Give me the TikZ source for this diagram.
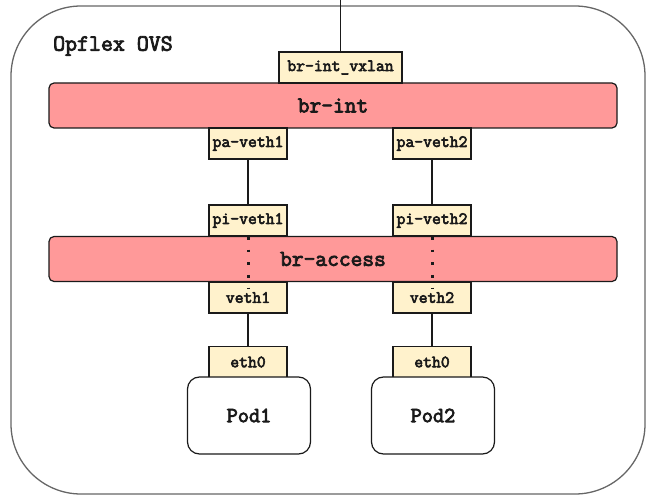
\documentclass[tikz,border=0pt]{standalone}
\usepackage{fontspec}
\newfontfamily\boldmono{Latin Modern Mono}[FakeBold=3.5]
\definecolor{portfill}{HTML}{FFF2CC}
\definecolor{bridgefill}{HTML}{FF9999}
\definecolor{inkline}{HTML}{1A1A1A}
\begin{document}
\begin{tikzpicture}[x=1pt,y=-1pt,
  txt/.style={font=\boldmono\fontsize{#1}{#1}\selectfont,text=inkline},
  bridge/.style={draw=inkline,line width=1.2pt,fill=bridgefill,rounded corners=5pt,
    minimum width=568pt,minimum height=45pt,inner sep=0pt,txt=22.8},
  port/.style={draw=inkline,line width=1.2pt,fill=portfill,
    minimum height=31pt,inner sep=0pt,txt=17.2},
  pod/.style={draw=inkline,line width=1.2pt,fill=white,rounded corners=12pt,
    minimum width=123pt,minimum height=77pt,inner sep=0pt,txt=21.7},
  wire/.style={draw=inkline,line width=1.1pt},
  dotline/.style={line width=3pt,dash pattern=on 2.6pt off 10pt,inkline}]
\useasboundingbox (0,0) rectangle (646,495);

% enclosing OVS frame
\draw[draw=black!60,line width=1.3pt,rounded corners=70pt] (11,6) rectangle (645,494);
\node[txt=23.2,anchor=west,inner sep=0pt] (ovs) at (53,46) {Opflex OVS};

% bridges
\node[bridge] (brint) at (333,105.5) {br-int};
\node[bridge] (bracc) at (333,259) {br-access};

% uplink port
\node[port,minimum width=123pt] (vx) at (340.5,67.5) {br-int\_vxlan};
\coordinate (up) at (340.5,0);
\draw[wire] (vx.north) -- (up);

% patch and veth ports per pod
\foreach \i/\x in {1/248,2/432}{
  \node[port,minimum width=78pt] (pa\i) at (\x,143.5) {pa-veth\i};
  \node[port,minimum width=78pt] (pi\i) at (\x,220.5) {pi-veth\i};
  \node[port,minimum width=78pt] (ve\i) at (\x,297.5) {veth\i};
  \node[port,minimum width=78pt] (eth\i) at (\x,362) {eth0};
  \node[pod] (pod\i) at (\x+1,415.5) {Pod\i};
  \draw[wire] (pa\i.south) -- (pi\i.north);
  \draw[wire] (ve\i.south) -- (eth\i.north);
  \draw[dotline] ([yshift=-0.5pt]pi\i.south) -- ([yshift=-7pt]ve\i.north);
}
\end{tikzpicture}
\end{document}
